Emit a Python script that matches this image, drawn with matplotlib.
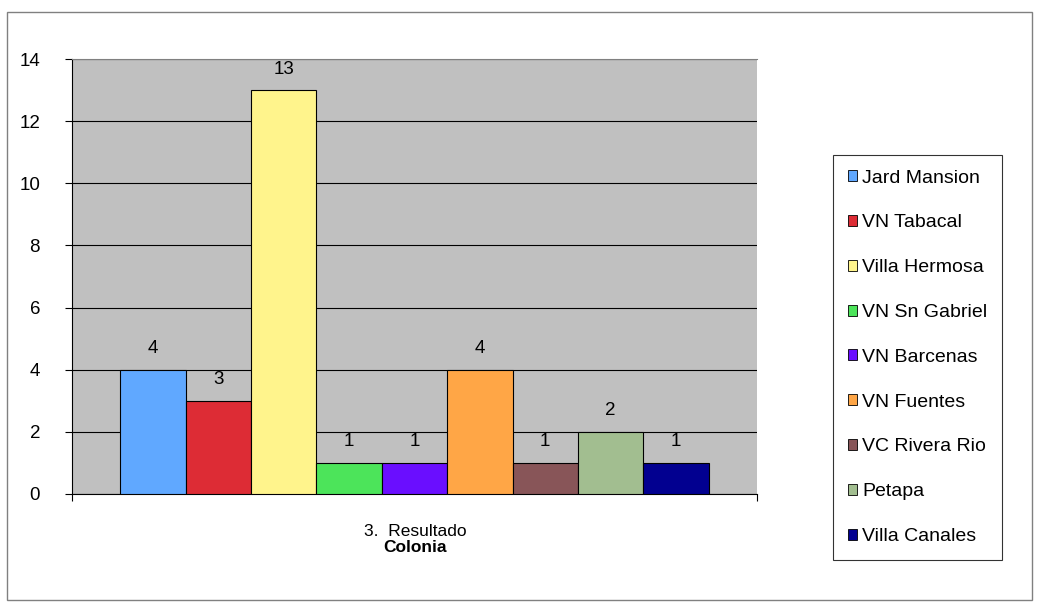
import matplotlib.pyplot as plt
from matplotlib.patches import Rectangle

plt.rcParams['font.family'] = ['Liberation Sans', 'DejaVu Sans']

# data
colonias = ["Jard Mansion", "VN Tabacal", "Villa Hermosa", "VN Sn Gabriel",
            "VN Barcenas", "VN Fuentes", "VC Rivera Rio", "Petapa", "Villa Canales"]
conteos = [4, 3, 13, 1, 1, 4, 1, 2, 1]
colores = ["#60A8FF", "#DD2C35", "#FFF48C", "#4CE45A", "#6A0EFF",
           "#FFA646", "#885558", "#A2BE90", "#020090"]
yticks = [0, 2, 4, 6, 8, 10, 12, 14]

fs = 13.5

fig = plt.figure(figsize=(10.39, 6.15), dpi=100)
fig.patches.append(Rectangle((7 / 1039, 1 - 600 / 615), 1025 / 1039, 588 / 615,
                             transform=fig.transFigure, fill=False,
                             edgecolor="#808080", linewidth=1))

ax = fig.add_axes([72 / 1039, 1 - 494 / 615, 685 / 1039, 435 / 615])
ax.set_facecolor("#C0C0C0")

pos = list(range(len(conteos)))
bars = ax.bar(pos, conteos, width=1.0, color=colores, edgecolor="black",
              linewidth=0.8, zorder=3)
for b, v in zip(bars, conteos):
    ax.annotate(str(v), (b.get_x() + b.get_width() / 2, v), xytext=(0, 9),
                textcoords="offset points", ha="center", va="bottom", fontsize=fs)

ax.set_xlim(-1.24, 9.24)
ax.set_ylim(0, 14)
ax.set_yticks(yticks)
ax.yaxis.grid(True, color="black", linewidth=0.8, zorder=0)
ax.set_axisbelow(True)
ax.tick_params(axis="y", labelsize=fs, length=5, direction="out", pad=18)
ax.set_xticks([-1.24, 9.24])
ax.set_xticklabels(["", ""])
ax.tick_params(axis="x", length=5, direction="out")
for s in ["left", "bottom"]:
    ax.spines[s].set_color("black")
ax.spines["top"].set_color("#808080")
ax.spines["right"].set_visible(False)

fig.text(415 / 1039, 1 - 532 / 615, "3.  Resultado", ha="center", va="center", fontsize=12.5)
fig.text(415 / 1039, 1 - 548 / 615, "Colonia", ha="center", va="center",
         fontsize=12.5, fontweight="bold")

handles = [Rectangle((0, 0), 1, 1, facecolor=c, edgecolor="black", linewidth=0.6)
           for c in colores]
leg = fig.legend(handles, colonias, loc="upper left",
                 bbox_to_anchor=(833 / 1039, 1 - 155 / 615),
                 fontsize=14, frameon=True, fancybox=False, edgecolor="black",
                 handlelength=0.5, handleheight=0.5, handletextpad=0.25,
                 labelspacing=1.43, borderpad=0.75, borderaxespad=0)
leg.get_frame().set_linewidth(0.8)

plt.savefig("out.png", dpi=100)
